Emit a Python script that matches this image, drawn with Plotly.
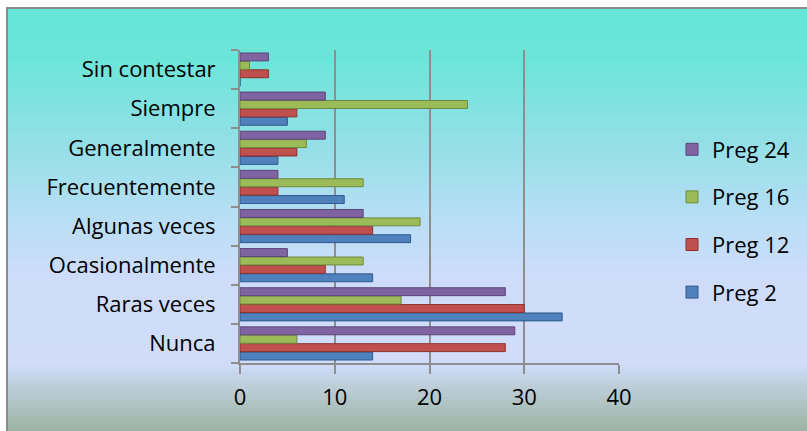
import plotly.graph_objects as go

# Survey answers per frequency category (percent of respondents)
categories = ["Nunca", "Raras veces", "Ocasionalmente", "Algunas veces",
              "Frecuentemente", "Generalmente", "Siempre", "Sin contestar"]
preg_2 = [14, 34, 14, 18, 11, 4, 5, 0]
preg_12 = [28, 30, 9, 14, 4, 6, 6, 3]
preg_16 = [6, 17, 13, 19, 13, 7, 24, 1]
preg_24 = [29, 28, 5, 13, 4, 9, 9, 3]

series_names = ["Preg 2", "Preg 12", "Preg 16", "Preg 24"]
series_values = [preg_2, preg_12, preg_16, preg_24]
series_colors = ["#4F81BD", "#C0504D", "#9BBB59", "#8064A2"]
edge_colors = ["#2F5A8C", "#8E2F2C", "#6F8A3A", "#5A4478"]
x_ticks = [0, 10, 20, 30, 40]

W, H = 807, 431
ML, MR, MT, MB = 240, 188, 50, 68
PW, PH = W - ML - MR, H - MT - MB
FONT = "Open Sans"


def px_x(x):
    """Pixel column -> plot-area ('paper') fraction."""
    return (x - ML) / PW


def px_y(y):
    """Pixel row (from top) -> plot-area ('paper') fraction."""
    return (H - MB - y) / PH


fig = go.Figure()
n = len(series_names)
for i, (name, vals, col, edge) in enumerate(zip(series_names, series_values,
                                                 series_colors, edge_colors)):
    fig.add_trace(go.Bar(
        y=categories, x=vals, name=name, orientation="h",
        marker=dict(color=col, line=dict(color=edge, width=1)),
        legendgroup=name, legendrank=n - i,
    ))

# Vertical background gradient built from thin horizontal bands
stops = [
    (0, (99, 230, 214)),
    (60, (108, 229, 217)),
    (150, (150, 223, 232)),
    (220, (185, 222, 245)),
    (280, (206, 220, 250)),
    (365, (208, 220, 250)),
    (382, (192, 208, 222)),
    (431, (155, 180, 162)),
]


def color_at(y):
    for (y0, c0), (y1, c1) in zip(stops[:-1], stops[1:]):
        if y0 <= y <= y1:
            t = (y - y0) / (y1 - y0)
            return "rgb(%d,%d,%d)" % tuple(round(a + (b - a) * t) for a, b in zip(c0, c1))
    return "rgb(%d,%d,%d)" % stops[-1][1]


shapes = []
step = 2
left_px, top_px = 7, 8
for y in range(top_px, H, step):
    shapes.append(dict(
        type="rect", xref="paper", yref="paper", layer="below",
        x0=px_x(left_px), x1=px_x(W + 5),
        y0=px_y(y + step + 0.5), y1=px_y(y),
        fillcolor=color_at(y + step / 2), line=dict(width=0),
    ))
# Outer chart border
shapes.append(dict(
    type="rect", xref="paper", yref="paper", layer="below",
    x0=px_x(left_px), x1=px_x(W + 5), y0=px_y(H + 5), y1=px_y(top_px),
    fillcolor="rgba(0,0,0,0)", line=dict(color="#8C8C8C", width=2),
))

fig.update_layout(
    width=W, height=H,
    margin=dict(l=ML, r=MR, t=MT, b=MB, autoexpand=False),
    paper_bgcolor="white",
    plot_bgcolor="rgba(0,0,0,0)",
    barmode="group",
    bargap=0.14,
    bargroupgap=0.06,
    shapes=shapes,
    font=dict(family=FONT, size=22, color="black"),
    legend=dict(
        traceorder="grouped", x=px_x(672), xanchor="left",
        y=px_y(221), yanchor="middle",
        font=dict(family=FONT, size=22, color="black"),
        bgcolor="rgba(0,0,0,0)", tracegroupgap=16, itemwidth=30,
    ),
    xaxis=dict(
        range=[0, 40], tickvals=x_ticks, ticktext=[str(v) for v in x_ticks],
        showgrid=True, gridcolor="#8E8E8E", gridwidth=2,
        showline=True, linecolor="#8E8E8E", linewidth=2,
        ticks="outside", ticklen=9, tickcolor="#8E8E8E", tickwidth=2,
        zeroline=False, ticklabelstandoff=5,
        tickfont=dict(family=FONT, size=22, color="black"),
    ),
    yaxis=dict(
        categoryorder="array", categoryarray=categories,
        showgrid=False, showline=True, linecolor="#8E8E8E", linewidth=2,
        ticks="outside", tickson="boundaries", ticklen=7, tickcolor="#8E8E8E",
        tickwidth=2, ticklabelstandoff=18,
        tickfont=dict(family=FONT, size=22, color="black"),
    ),
)

fig.write_html("out.html")
